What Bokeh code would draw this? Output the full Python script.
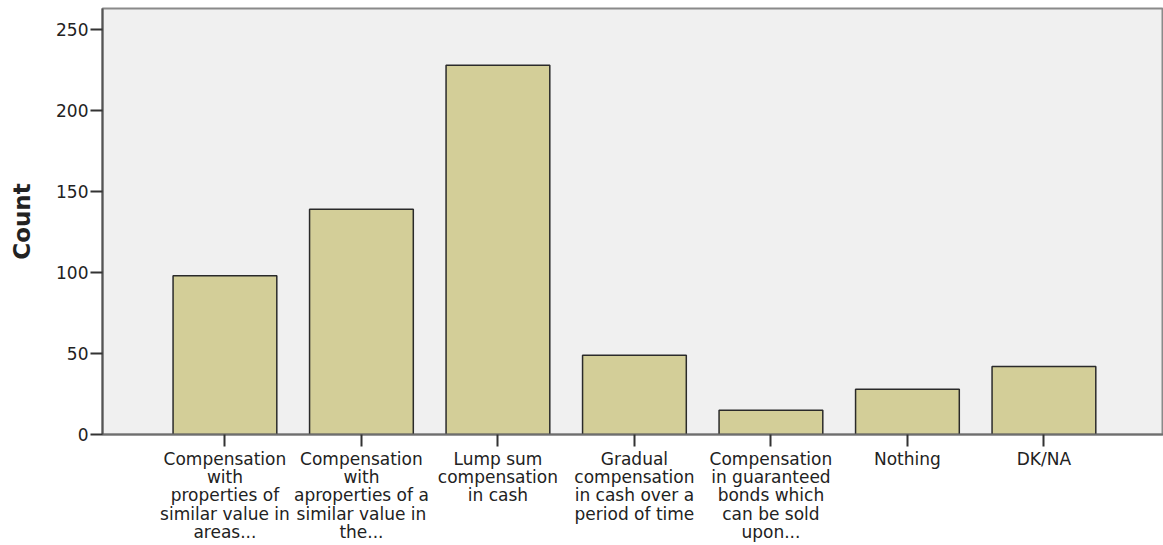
from bokeh.plotting import figure
from bokeh.models import Range1d, FixedTicker, ColumnDataSource
from bokeh.embed import file_html
from bokeh.resources import INLINE

categories = [
    "Compensation\nwith\nproperties of\nsimilar value in\nareas...",
    "Compensation\nwith\naproperties of a\nsimilar value in\nthe...",
    "Lump sum\ncompensation\nin cash",
    "Gradual\ncompensation\nin cash over a\nperiod of time",
    "Compensation\nin guaranteed\nbonds which\ncan be sold\nupon...",
    "Nothing",
    "DK/NA",
]
counts = [98, 139, 228, 49, 15, 28, 42]
y_ticks = [0, 50, 100, 150, 200, 250]

positions = list(range(len(categories)))
src = ColumnDataSource(dict(x=positions, top=counts))

p = figure(width=1163, height=545, output_backend="svg", toolbar_location=None,
           x_range=Range1d(-0.897, 6.876), y_range=Range1d(0, 263),
           min_border_left=102, min_border_right=0, min_border_top=8, min_border_bottom=111)

p.border_fill_color = "white"
p.background_fill_color = "#f0f0f0"
p.outline_line_color = "#8a8a8a"
p.outline_line_width = 2
p.grid.visible = False

p.vbar(x="x", top="top", bottom=0, width=0.76, source=src,
       fill_color="#d3ce98", line_color="#2a2a2a", line_width=1.5)

p.xaxis.ticker = FixedTicker(ticks=positions)
p.xaxis.major_label_overrides = {i: c for i, c in enumerate(categories)}
p.xaxis.major_label_orientation = "horizontal"
p.yaxis.ticker = FixedTicker(ticks=y_ticks)

for ax in (p.xaxis[0], p.yaxis[0]):
    ax.major_label_text_font = "DejaVu Sans"
    ax.major_label_text_font_size = "17px"
    ax.major_label_text_color = "#222222"
    ax.major_tick_line_color = "#333333"
    ax.major_tick_line_width = 2
    ax.major_tick_in = 0
    ax.major_tick_out = 12
    ax.minor_tick_line_color = None
    ax.major_label_standoff = 2

p.xaxis.major_label_text_line_height = 0.92
p.xaxis.axis_line_color = "#6e6e6e"
p.xaxis.axis_line_width = 2
p.yaxis.axis_line_color = "#555555"
p.yaxis.axis_line_width = 2

p.yaxis.axis_label = "Count"
p.yaxis.axis_label_text_font = "DejaVu Sans"
p.yaxis.axis_label_text_font_style = "bold"
p.yaxis.axis_label_text_font_size = "23px"
p.yaxis.axis_label_text_color = "#222222"
p.yaxis.axis_label_standoff = 18

open("out.html", "w").write(file_html(p, INLINE))
